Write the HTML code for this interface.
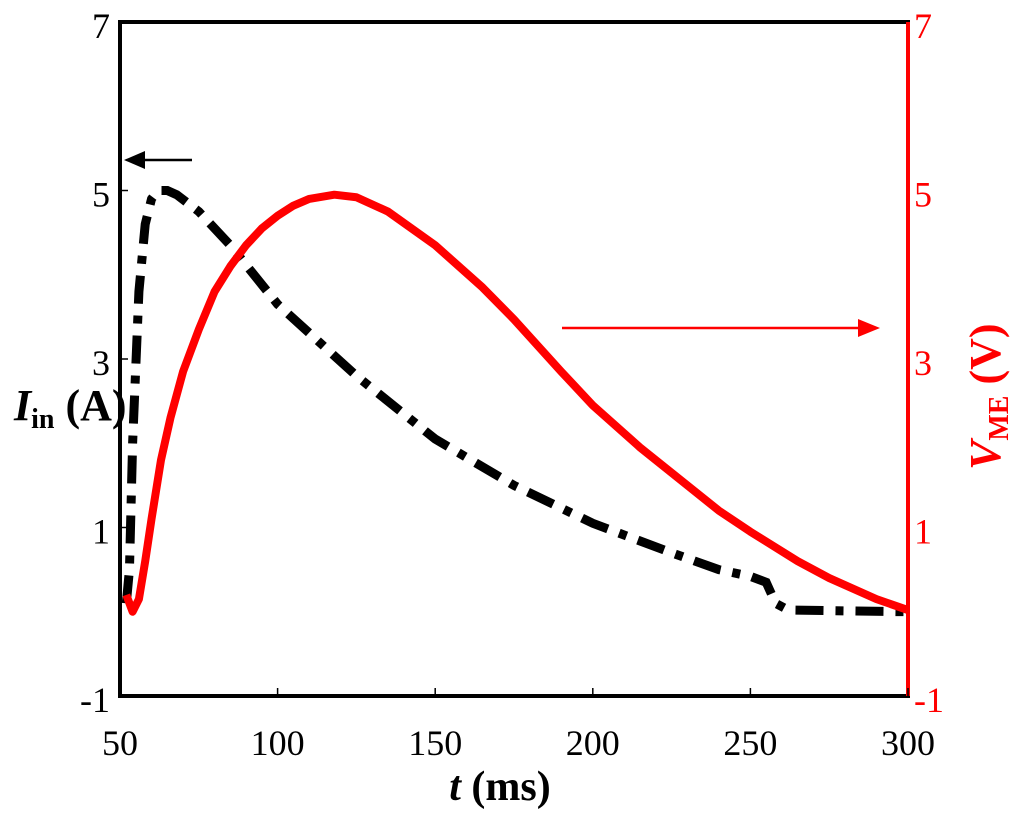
<!DOCTYPE html>
<html><head><meta charset="utf-8"><style>
body{margin:0;background:#fff}
svg{display:block}
text{font-family:"Liberation Serif",serif}
</style></head><body>
<svg id="chart" width="1024" height="833">
<g id="marks"></g>
<rect x="120" y="22" width="788" height="674" fill="none" stroke="#000" stroke-width="4"/>
<line x1="908" y1="22" x2="908" y2="696" stroke="#f00" stroke-width="4"/>
<g id="ticks"></g>
<text x="14" y="420" font-size="44" font-style="italic" font-weight="bold">I<tspan font-size="28" font-style="normal" dy="8">in</tspan><tspan font-style="normal" dy="-8"> (A)</tspan></text>
<text transform="translate(1000,470) rotate(-90)" font-size="44" fill="#f00" font-weight="bold"><tspan font-style="italic">V</tspan><tspan font-size="28" dy="8">ME</tspan><tspan dy="-8"> (V)</tspan></text>
<text x="500" y="800" font-size="42" font-weight="bold" text-anchor="middle"><tspan font-style="italic">t</tspan> (ms)</text>
<g><line x1="192" y1="160" x2="140" y2="160" stroke="#000" stroke-width="2.5"/><polygon points="124,160 145,151 145,169" fill="#000"/></g>
<g><line x1="562" y1="328" x2="862" y2="328" stroke="#f00" stroke-width="2.5"/><polygon points="880,328 858,319 858,337" fill="#f00"/></g>
</svg>
<script>
const tX=[52,53,54,56,58,60,62,65,68,75,85,100,125,150,175,200,225,240,250,255,258,262,300];
const current=[0.1,0.5,2.0,3.8,4.6,4.9,5.0,5.0,4.95,4.75,4.35,3.65,2.8,2.05,1.5,1.05,0.7,0.5,0.42,0.35,0.1,0.02,0.0];
const tV=[52,54,56,58,60,63,66,70,75,80,85,90,95,100,105,110,118,125,135,150,165,175,190,200,215,225,240,250,265,275,290,300];
const voltage=[0.2,0.0,0.15,0.6,1.1,1.8,2.3,2.85,3.35,3.8,4.1,4.35,4.55,4.7,4.82,4.9,4.95,4.92,4.75,4.35,3.85,3.47,2.85,2.45,1.95,1.65,1.2,0.95,0.6,0.4,0.15,0.02];
const xTicks=[50,100,150,200,250,300];
const yTicks=[-1,1,3,5,7];
const X=v=>120+(v-50)*(788/250), Y=v=>696-(v+1)*84.25;
const NS="http://www.w3.org/2000/svg";
const marks=document.getElementById('marks'), ticks=document.getElementById('ticks');
function mk(t,a,p){const e=document.createElementNS(NS,t);for(const k in a)e.setAttribute(k,a[k]);p.appendChild(e);return e;}
const pc=mk('polyline',{points:tX.map((t,i)=>X(t)+','+Y(current[i])).join(' '),fill:'none',stroke:'#000','stroke-width':9,'stroke-dasharray':'28,12,8,12'},marks);


const pv=mk('polyline',{points:tV.map((t,i)=>X(t)+','+Y(voltage[i])).join(' '),fill:'none',stroke:'#f00','stroke-width':8,'stroke-linejoin':'round'},marks);


xTicks.forEach(v=>{
 mk('line',{x1:X(v),x2:X(v),y1:696,y2:688,stroke:'#000','stroke-width':1.5},ticks);
 const t=mk('text',{x:X(v),y:755,'font-size':36,'text-anchor':'middle'},ticks);t.textContent=v;
 
 
});
yTicks.forEach(v=>{
 mk('line',{x1:120,x2:128,y1:Y(v),y2:Y(v),stroke:'#000','stroke-width':1.5},ticks);
 const t=mk('text',{x:110,y:Y(v)+16,'font-size':36,'text-anchor':'end'},ticks);t.textContent=v;
 
 
 const r=mk('text',{x:914,y:Y(v)+16,'font-size':36,fill:'#f00'},ticks);r.textContent=v;
 
 
});
</script>
</body></html>
